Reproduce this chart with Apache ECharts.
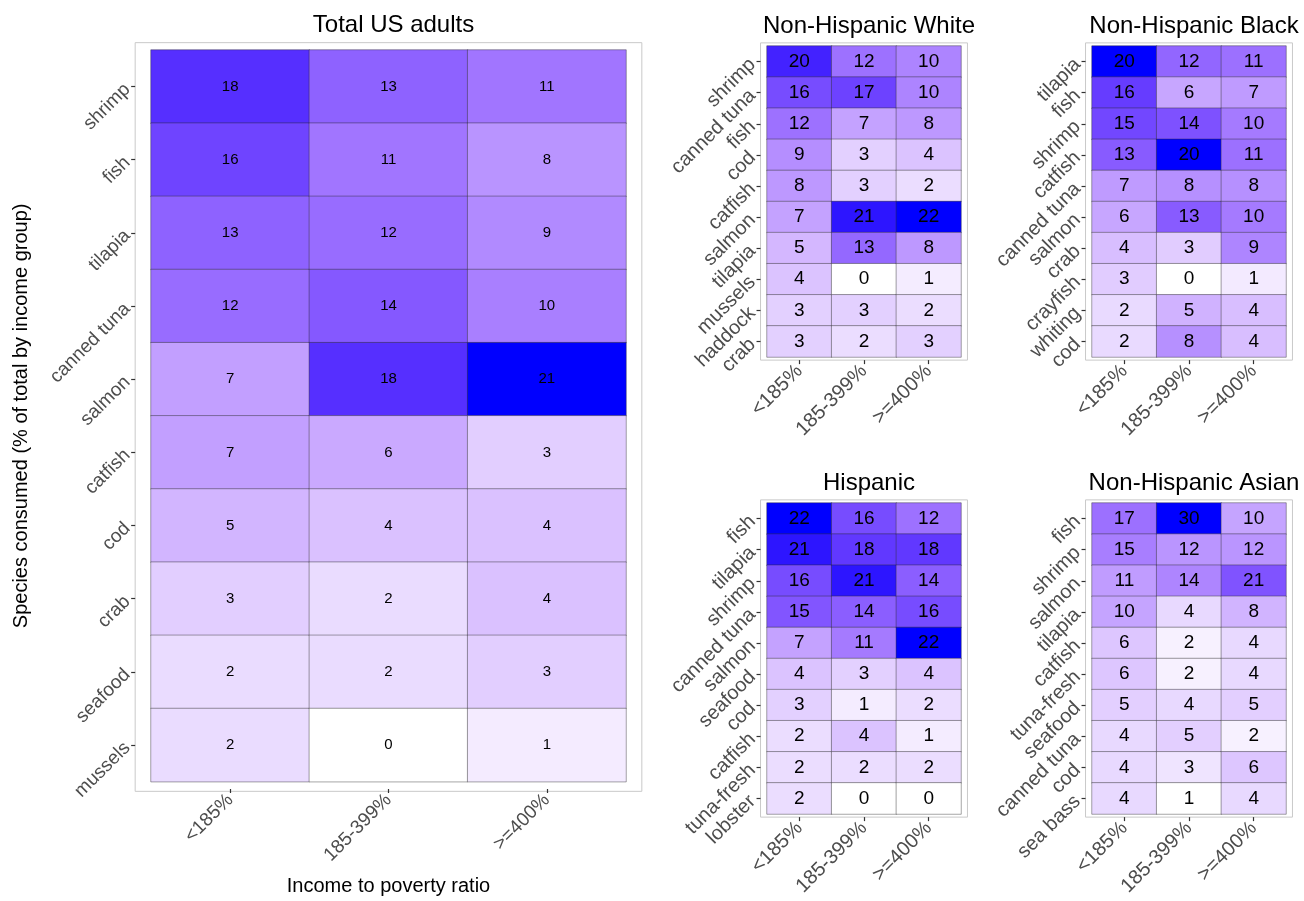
<!DOCTYPE html>
<html>
<head>
<meta charset="utf-8">
<title>Species consumed by income group</title>
<script src="https://cdn.jsdelivr.net/npm/echarts@6/dist/echarts.min.js"></script>
<style>
  html, body { margin: 0; padding: 0; background: #fff; }
  #chart { width: 1304px; height: 901px; }
</style>
</head>
<body>
<div id="chart"></div>
<script>
// income groups (x categories)
const incomeGroups = ['<185%', '185-399%', '>=400%']

// Total US adults
const totalSpecies = ['shrimp', 'fish', 'tilapia', 'canned tuna', 'salmon', 'catfish', 'cod', 'crab', 'seafood', 'mussels']
const totalLow = [18, 16, 13, 12, 7, 7, 5, 3, 2, 2]
const totalMid = [13, 11, 12, 14, 18, 6, 4, 2, 2, 0]
const totalHigh = [11, 8, 9, 10, 21, 3, 4, 4, 3, 1]

// Non-Hispanic White
const whiteSpecies = ['shrimp', 'canned tuna', 'fish', 'cod', 'catfish', 'salmon', 'tilapia', 'mussels', 'haddock', 'crab']
const whiteLow = [20, 16, 12, 9, 8, 7, 5, 4, 3, 3]
const whiteMid = [12, 17, 7, 3, 3, 21, 13, 0, 3, 2]
const whiteHigh = [10, 10, 8, 4, 2, 22, 8, 1, 2, 3]

// Non-Hispanic Black
const blackSpecies = ['tilapia', 'fish', 'shrimp', 'catfish', 'canned tuna', 'salmon', 'crab', 'crayfish', 'whiting', 'cod']
const blackLow = [20, 16, 15, 13, 7, 6, 4, 3, 2, 2]
const blackMid = [12, 6, 14, 20, 8, 13, 3, 0, 5, 8]
const blackHigh = [11, 7, 10, 11, 8, 10, 9, 1, 4, 4]

// Hispanic
const hispSpecies = ['fish', 'tilapia', 'shrimp', 'canned tuna', 'salmon', 'seafood', 'cod', 'catfish', 'tuna-fresh', 'lobster']
const hispLow = [22, 21, 16, 15, 7, 4, 3, 2, 2, 2]
const hispMid = [16, 18, 21, 14, 11, 3, 1, 4, 2, 0]
const hispHigh = [12, 18, 14, 16, 22, 4, 2, 1, 2, 0]

// Non-Hispanic Asian
const asianSpecies = ['fish', 'shrimp', 'salmon', 'tilapia', 'catfish', 'tuna-fresh', 'seafood', 'canned tuna', 'cod', 'sea bass']
const asianLow = [17, 15, 11, 10, 6, 6, 5, 4, 4, 4]
const asianMid = [30, 12, 14, 4, 2, 2, 4, 5, 3, 1]
const asianHigh = [10, 12, 21, 8, 4, 4, 5, 2, 6, 4]

const FONT = '"Liberation Sans", Arial, Helvetica, sans-serif'

// white -> blue ramp interpolated in CIELAB (like ggplot's gradient)
function labToHex(L, a, b) {
  const fy = (L + 16) / 116
  const fx = fy + a / 500
  const fz = fy - b / 200
  const finv = t => (t * t * t > 0.008856 ? t * t * t : (t - 16 / 116) / 7.787)
  const X = 0.95047 * finv(fx)
  const Y = finv(fy)
  const Z = 1.08883 * finv(fz)
  const lin = [
    3.2406 * X - 1.5372 * Y - 0.4986 * Z,
    -0.9689 * X + 1.8758 * Y + 0.0415 * Z,
    0.0557 * X - 0.2040 * Y + 1.0570 * Z
  ]
  return '#' + lin.map(c => {
    let v = c <= 0.0031308 ? 12.92 * c : 1.055 * Math.pow(c, 1 / 2.4) - 0.055
    v = Math.round(Math.min(1, Math.max(0, v)) * 255)
    return v.toString(16).padStart(2, '0')
  }).join('')
}
const ramp = []
for (let i = 0; i <= 20; i++) {
  const t = Math.pow(i / 20, 0.8) // picture looks a touch more saturated than plain Lab
  ramp.push(labToHex(100 + (32.30 - 100) * t, 79.19 * t, -107.86 * t))
}

const panels = [
  { title: 'Total US adults', species: totalSpecies, cols: [totalLow, totalMid, totalHigh], left: 151, top: 50, width: 475, height: 734, cellFont: 15, tickFont: 19, main: true },
  { title: 'Non-Hispanic White', species: whiteSpecies, cols: [whiteLow, whiteMid, whiteHigh], left: 767, top: 46, width: 194, height: 311, cellFont: 19, tickFont: 20 },
  { title: 'Non-Hispanic Black', species: blackSpecies, cols: [blackLow, blackMid, blackHigh], left: 1092, top: 46, width: 194, height: 311, cellFont: 19, tickFont: 20 },
  { title: 'Hispanic', species: hispSpecies, cols: [hispLow, hispMid, hispHigh], left: 767, top: 503, width: 194, height: 311, cellFont: 19, tickFont: 20 },
  { title: 'Non-Hispanic Asian', species: asianSpecies, cols: [asianLow, asianMid, asianHigh], left: 1092, top: 503, width: 194, height: 311, cellFont: 19, tickFont: 20 }
]

const chart = echarts.init(document.getElementById('chart'), null, { renderer: 'canvas' })

const grid = []
const xAxis = []
const yAxis = []
const series = []
const visualMap = []
const title = []

panels.forEach((p, i) => {
  const padX = p.width / 3 * 0.1
  const padY = p.height / 10 * 0.1
  const inner = i * 2
  const outer = i * 2 + 1

  // cell area
  grid.push({ left: p.left, top: p.top, width: p.width, height: p.height, containLabel: false })
  // panel frame
  grid.push({
    left: p.left - padX, top: p.top - padY, width: p.width + 2 * padX, height: p.height + 2 * padY,
    show: true, borderColor: '#c9c9c9', borderWidth: 1, backgroundColor: '#fff', z: 0
  })

  const label = {
    fontFamily: FONT, fontSize: p.tickFont, color: '#4d4d4d', rotate: 45, margin: 8,
    interval: 0, hideOverlap: false
  }
  const tick = { show: true, alignWithLabel: true, interval: 0, length: 4, lineStyle: { color: '#333', width: 1.2 } }
  xAxis.push({
    type: 'category', gridIndex: inner, data: incomeGroups, position: 'bottom', offset: padY,
    axisLine: { show: false }, axisTick: tick, axisLabel: label, splitLine: { show: false },
    name: p.main ? 'Income to poverty ratio' : '', nameLocation: 'middle', nameGap: 87,
    nameTextStyle: { fontFamily: FONT, fontSize: 20, color: '#000' }
  })
  yAxis.push({
    type: 'category', gridIndex: inner, data: p.species, inverse: true, offset: padX,
    axisLine: { show: false }, axisTick: tick, axisLabel: label, splitLine: { show: false },
    name: p.main ? 'Species consumed (% of total by income group)' : '', nameLocation: 'middle', nameGap: 104,
    nameTextStyle: { fontFamily: FONT, fontSize: 20, color: '#000' }
  })
  xAxis.push({ type: 'value', gridIndex: outer, show: false })
  yAxis.push({ type: 'value', gridIndex: outer, show: false })

  const data = []
  let min = Infinity
  let max = -Infinity
  p.cols.forEach((col, x) => {
    col.forEach((v, y) => {
      data.push([x, y, v])
      min = Math.min(min, v)
      max = Math.max(max, v)
    })
  })

  series.push({
    type: 'heatmap', xAxisIndex: inner, yAxisIndex: inner, data: data, z: 3,
    itemStyle: { borderColor: 'rgba(40,40,40,0.6)', borderWidth: 0.7 },
    label: { show: true, color: '#000', fontFamily: FONT, fontSize: p.cellFont },
    emphasis: { disabled: true }
  })
  visualMap.push({
    show: false, seriesIndex: i, dimension: 2, min: min, max: max, inRange: { color: ramp }
  })
  title.push({
    text: p.title, left: p.left + p.width / 2, top: p.top - padY - 34, textAlign: 'center',
    textStyle: { fontFamily: FONT, fontSize: 24, fontWeight: 'normal', color: '#000' }
  })
})

chart.setOption({
  animation: false,
  backgroundColor: '#fff',
  title: title,
  grid: grid,
  xAxis: xAxis,
  yAxis: yAxis,
  visualMap: visualMap,
  series: series
})
</script>
</body>
</html>
